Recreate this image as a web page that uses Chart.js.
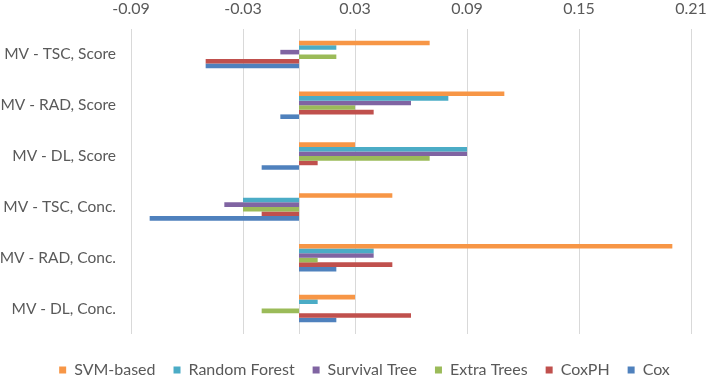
<!DOCTYPE html>
<html>

<head>
    <meta charset="utf-8" />
    <style>
        body {
            margin: 0;
            padding: 0;
            background-color: #ffffff;
        }
    </style>
</head>

<body>
    <canvas id="modelChart" width="708" height="378"></canvas>
</body>
<script src="https://cdn.jsdelivr.net/npm/chart.js"></script>
<script>
    // Data
    var categories = ["MV - TSC, Score", "MV - RAD, Score", "MV - DL, Score",
        "MV - TSC, Conc.", "MV - RAD, Conc.", "MV - DL, Conc."];

    var svmBased = [0.07, 0.11, 0.03, 0.05, 0.20, 0.03];
    var randomForest = [0.02, 0.08, 0.09, -0.03, 0.04, 0.01];
    var survivalTree = [-0.01, 0.06, 0.09, -0.04, 0.04, 0];
    var extraTrees = [0.02, 0.03, 0.07, -0.03, 0.01, -0.02];
    var coxPH = [-0.05, 0.04, 0.01, -0.02, 0.05, 0.06];
    var cox = [-0.05, -0.01, -0.02, -0.08, 0.02, 0.02];

    var xTicks = [-0.09, -0.03, 0.03, 0.09, 0.15, 0.21];

    var textColor = "#595959";
    var gridColor = "#d9d9d9";
    var fontFamily = "Lato, 'Open Sans', sans-serif";

    // Vertical line at zero (the category axis)
    var zeroLine = {
        id: "zeroLine",
        beforeDatasetsDraw: function (chart) {
            var x = chart.scales.x.getPixelForValue(0);
            var area = chart.chartArea;
            var ctx = chart.ctx;
            ctx.save();
            ctx.strokeStyle = gridColor;
            ctx.lineWidth = 1;
            ctx.beginPath();
            ctx.moveTo(Math.round(x) + 0.5, area.top);
            ctx.lineTo(Math.round(x) + 0.5, area.bottom);
            ctx.stroke();
            ctx.restore();
        }
    };

    // Nudge the legend row a bit right and down, like the original
    var legendShift = {
        id: "legendShift",
        afterLayout: function (chart) {
            var lg = chart.legend;
            lg.left += 19;
            lg.right += 19;
            lg.top += 10;
            lg.bottom += 10;
        }
    };

    var ctx = document.getElementById("modelChart").getContext("2d");
    var modelChart = new Chart(ctx, {
        type: "bar",
        data: {
            labels: categories,
            datasets: [
                { label: "SVM-based", data: svmBased, backgroundColor: "#f79646" },
                { label: "Random Forest", data: randomForest, backgroundColor: "#4bacc6" },
                { label: "Survival Tree", data: survivalTree, backgroundColor: "#8064a2" },
                { label: "Extra Trees", data: extraTrees, backgroundColor: "#9bbb59" },
                { label: "CoxPH", data: coxPH, backgroundColor: "#c0504d" },
                { label: "Cox", data: cox, backgroundColor: "#4f81bd" },
            ],
        },
        options: {
            indexAxis: "y",
            responsive: false,
            animation: false,
            devicePixelRatio: 1,
            layout: {
                padding: { left: 0, right: 17, top: 0, bottom: 0 },
            },
            datasets: {
                bar: {
                    categoryPercentage: 0.54,
                    barPercentage: 1.0,
                    borderWidth: 0,
                },
            },
            scales: {
                x: {
                    position: "top",
                    min: xTicks[0],
                    max: xTicks[xTicks.length - 1],
                    afterBuildTicks: function (scale) {
                        scale.ticks = xTicks.map(function (v) { return { value: v }; });
                    },
                    afterFit: function (scale) {
                        scale.height = 29;
                        scale.paddingLeft = 0;
                        scale.paddingRight = 0;
                    },
                    ticks: {
                        padding: 11,
                        color: textColor,
                        font: { family: fontFamily, size: 16 },
                        maxRotation: 0,
                        callback: function (value) {
                            return Number(value).toFixed(2);
                        },
                    },
                    grid: {
                        color: gridColor,
                        drawTicks: false,
                    },
                    border: { display: false },
                },
                y: {
                    afterFit: function (scale) {
                        scale.width = 131;
                    },
                    ticks: {
                        padding: 15,
                        color: textColor,
                        font: { family: fontFamily, size: 15.5 },
                    },
                    grid: { display: false, drawTicks: false },
                    border: { display: false },
                },
            },
            plugins: {
                legend: {
                    position: "bottom",
                    maxHeight: 44,
                    labels: {
                        boxWidth: 7,
                        boxHeight: 7,
                        padding: 18,
                        color: textColor,
                        font: { family: fontFamily, size: 16 },
                    },
                },
                tooltip: { enabled: false },
            },
        },
        plugins: [zeroLine, legendShift],
    });
</script>

</html>
